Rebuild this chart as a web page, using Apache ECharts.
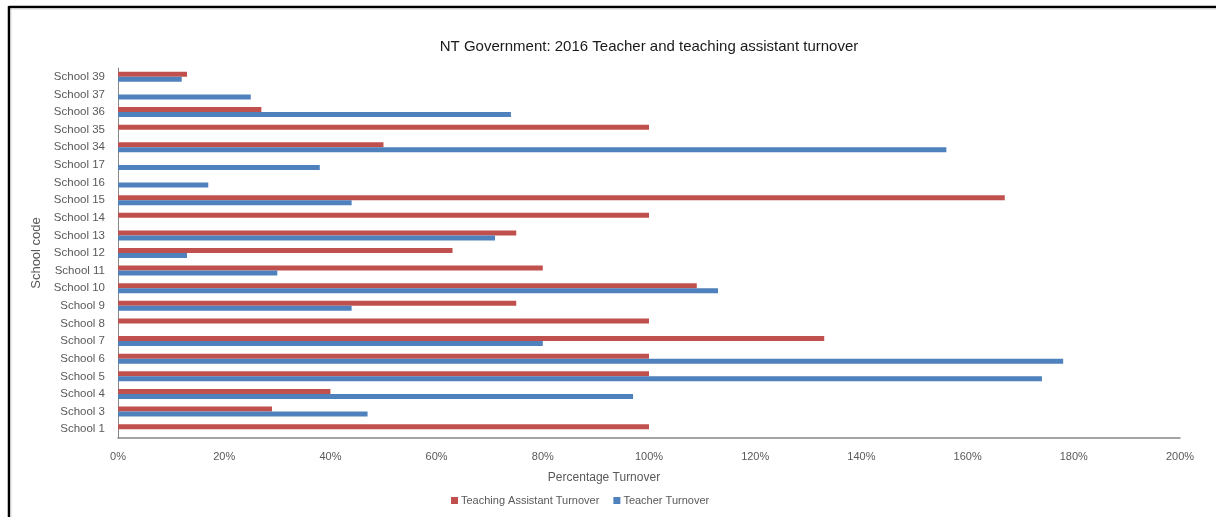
<!DOCTYPE html>
<html>
<head>
<meta charset="utf-8">
<script src="https://cdn.jsdelivr.net/npm/echarts@6/dist/echarts.min.js"></script>
<style>
  html, body { margin: 0; padding: 0; background: #fff; }
  #chart { width: 1216px; height: 517px; }
</style>
</head>
<body>
<div id="chart"></div>
<script>
// School codes, bottom to top along the category axis
const schools = ['School 1', 'School 3', 'School 4', 'School 5', 'School 6', 'School 7', 'School 8',
  'School 9', 'School 10', 'School 11', 'School 12', 'School 13', 'School 14', 'School 15',
  'School 16', 'School 17', 'School 34', 'School 35', 'School 36', 'School 37', 'School 39'];

// Turnover in percent (null = no value reported)
const assistantTurnover = [100, 29, 40, 100, 100, 133, 100, 75, 109, 80, 63, 75, 100, 167,
  null, null, 50, 100, 27, null, 13];
const teacherTurnover = [null, 47, 97, 174, 178, 80, null, 44, 113, 30, 13, 71, null, 44,
  17, 38, 156, null, 74, 25, 12];

const axisTicks = [0, 20, 40, 60, 80, 100, 120, 140, 160, 180, 200];

const font = 'Liberation Sans';
const chart = echarts.init(document.getElementById('chart'));

chart.setOption({
  animation: false,
  backgroundColor: '#ffffff',
  textStyle: { fontFamily: font },
  title: {
    text: 'NT Government: 2016 Teacher and teaching assistant turnover',
    left: 644,
    textAlign: 'center',
    top: 34,
    textStyle: { fontFamily: font, fontSize: 15, fontWeight: 'normal', color: '#1a1a1a' }
  },
  legend: {
    left: 446,
    top: 490,
    itemWidth: 7,
    itemHeight: 7,
    itemGap: 14,
    icon: 'rect',
    textStyle: { fontFamily: font, fontSize: 11, color: '#595959', padding: [0, 0, 0, -2] },
    data: ['Teaching Assistant Turnover', 'Teacher Turnover']
  },
  grid: { left: 118, right: 36, top: 68, bottom: 79, containLabel: false },
  xAxis: {
    type: 'value',
    min: axisTicks[0],
    max: axisTicks[axisTicks.length - 1],
    interval: axisTicks[1] - axisTicks[0],
    name: 'Percentage Turnover',
    nameLocation: 'middle',
    nameGap: 34,
    nameTextStyle: { fontFamily: font, fontSize: 12, color: '#595959', padding: [0, 90, 0, 0] },
    axisLine: { show: true, lineStyle: { color: '#868686', width: 1.5 } },
    axisTick: { show: false },
    splitLine: { show: false },
    axisLabel: { formatter: '{value}%', color: '#595959', fontSize: 11, margin: 13, fontFamily: font }
  },
  yAxis: {
    type: 'category',
    data: schools,
    name: 'School code',
    nameLocation: 'middle',
    nameRotate: 90,
    nameGap: 67,
    nameTextStyle: { fontFamily: font, fontSize: 13, color: '#595959' },
    axisLine: { show: true, lineStyle: { color: '#868686', width: 1 } },
    axisTick: { show: false },
    splitLine: { show: false },
    axisLabel: { color: '#595959', fontSize: 11.5, margin: 13, fontFamily: font }
  },
  series: [
    {
      name: 'Teaching Assistant Turnover',
      type: 'bar',
      data: assistantTurnover,
      barWidth: 5,
      barGap: '0%',
      itemStyle: { color: '#C0504D' }
    },
    {
      name: 'Teacher Turnover',
      type: 'bar',
      data: teacherTurnover,
      barWidth: 5,
      barGap: '0%',
      itemStyle: { color: '#4F81BD' }
    }
  ],
  graphic: [
    { type: 'line', shape: { x1: 9, y1: 7, x2: 1216, y2: 7 }, style: { stroke: '#000', lineWidth: 2.5 } },
    { type: 'line', shape: { x1: 9, y1: 6, x2: 9, y2: 517 }, style: { stroke: '#000', lineWidth: 2.5 } },
    { type: 'line', shape: { x1: 11, y1: 9, x2: 1216, y2: 9 }, style: { stroke: '#d9d9d9', lineWidth: 1 } },
    { type: 'line', shape: { x1: 11, y1: 9, x2: 11, y2: 517 }, style: { stroke: '#d9d9d9', lineWidth: 1 } }
  ]
});
</script>
</body>
</html>
